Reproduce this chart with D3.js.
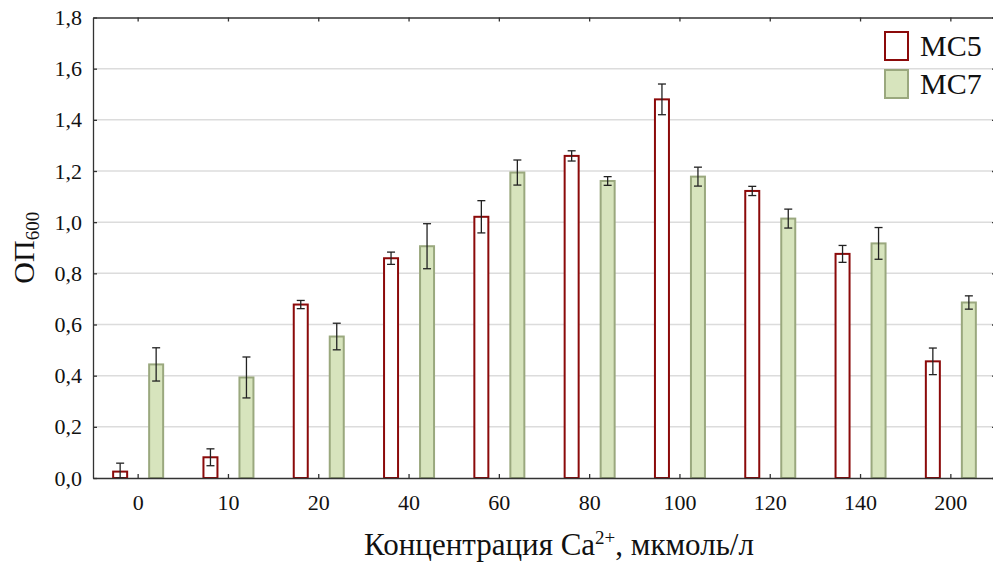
<!DOCTYPE html>
<html>
<head>
<meta charset="utf-8">
<script src="https://cdn.jsdelivr.net/npm/d3@7"></script>
</head>
<body style="margin:0">
<svg id="chart"></svg>
<script>
var categories = ["0", "10", "20", "40", "60", "80", "100", "120", "140", "200"];
var seriesNames = ["MC5", "MC7"];
var mc5 = [0.025, 0.081, 0.678, 0.859, 1.021, 1.259, 1.48, 1.122, 0.876, 0.456];
var mc5Err = [0.033, 0.033, 0.016, 0.024, 0.063, 0.02, 0.06, 0.018, 0.033, 0.052];
var mc7 = [0.444, 0.393, 0.553, 0.906, 1.194, 1.161, 1.178, 1.014, 0.917, 0.686];
var mc7Err = [0.065, 0.08, 0.052, 0.088, 0.049, 0.017, 0.037, 0.037, 0.062, 0.026];
var yTicks = [0, 0.2, 0.4, 0.6, 0.8, 1.0, 1.2, 1.4, 1.6, 1.8];

var FONT = "'Liberation Serif'";

var W = 993, H = 562;
var margin = {top: 17.5, right: -3, bottom: 84, left: 93},
    width  = W - margin.left - margin.right,
    height = H - margin.top - margin.bottom;

var svg = d3.select("#chart")
    .attr("width", W)
    .attr("height", H);

var g = svg.append("g")
    .attr("transform", "translate(" + margin.left + "," + margin.top + ")");

var x = d3.scaleBand().domain(categories).range([0, width]);
var y = d3.scaleLinear().domain([0, 1.8]).range([height, 0]);

var fmt = function(d) { return d3.format(".1f")(d).replace(".", ","); };

// grid lines
g.selectAll(".grid")
    .data(yTicks.filter(function(d) { return d > 0 && d < 1.8; }))
  .enter().append("line")
    .attr("x1", 0).attr("x2", width)
    .attr("y1", function(d) { return y(d); })
    .attr("y2", function(d) { return y(d); })
    .attr("stroke", "#dcdcdc")
    .attr("stroke-width", 1.5);

// bars, one group per series
var data = [
  {name: seriesNames[0], vals: mc5, errs: mc5Err, off: -18, fill: "#ffffff", stroke: "#8b0a0a"},
  {name: seriesNames[1], vals: mc7, errs: mc7Err, off: 18, fill: "#d7e4bd", stroke: "#9aa87e"}
];
var barW = 14;

data.forEach(function(s) {
  var cx = function(d, i) { return x(categories[i]) + x.bandwidth() / 2 + s.off; };
  g.selectAll(".bar-" + s.name)
      .data(s.vals)
    .enter().append("rect")
      .attr("x", function(d, i) { return cx(d, i) - barW / 2; })
      .attr("y", function(d) { return y(d); })
      .attr("width", barW)
      .attr("height", function(d) { return height - y(d); })
      .attr("fill", s.fill)
      .attr("stroke", s.stroke)
      .attr("stroke-width", 2);

  // error bars
  var eb = g.selectAll(".err-" + s.name)
      .data(s.vals)
    .enter().append("g")
      .attr("stroke", "#222")
      .attr("stroke-width", 1.3);
  eb.append("line")
      .attr("x1", cx).attr("x2", cx)
      .attr("y1", function(d, i) { return y(d + s.errs[i]); })
      .attr("y2", function(d, i) { return y(Math.max(0, d - s.errs[i])); });
  eb.append("line")
      .attr("x1", function(d, i) { return cx(d, i) - 4; })
      .attr("x2", function(d, i) { return cx(d, i) + 4; })
      .attr("y1", function(d, i) { return y(d + s.errs[i]); })
      .attr("y2", function(d, i) { return y(d + s.errs[i]); });
  eb.append("line")
      .attr("x1", function(d, i) { return cx(d, i) - 4; })
      .attr("x2", function(d, i) { return cx(d, i) + 4; })
      .attr("y1", function(d, i) { return y(Math.max(0, d - s.errs[i])); })
      .attr("y2", function(d, i) { return y(Math.max(0, d - s.errs[i])); });
});

// axes, ticks pointing inward on all four sides
var xAxisB = d3.axisBottom(x).tickSizeInner(-4).tickSizeOuter(0).tickPadding(16);
var xAxisT = d3.axisTop(x).tickSizeInner(-4).tickSizeOuter(0).tickFormat("");
var yAxisL = d3.axisLeft(y).tickValues(yTicks).tickSizeInner(-4).tickSizeOuter(0).tickPadding(11).tickFormat(fmt);
var yAxisR = d3.axisRight(y).tickValues(yTicks).tickSizeInner(-4).tickSizeOuter(0).tickFormat("");

var styleAxis = function(sel) {
  sel.attr("font-family", null).attr("font-size", null);
  sel.select(".domain").attr("stroke", "#333").attr("stroke-width", 1.3);
  sel.selectAll(".tick line").attr("stroke", "#333").attr("stroke-width", 1.3);
  sel.selectAll(".tick text")
      .attr("font-family", FONT)
      .attr("font-size", 22)
      .attr("fill", "#111");
};

g.append("g").attr("transform", "translate(0," + height + ")").call(xAxisB).call(styleAxis);
g.append("g").call(xAxisT).call(styleAxis);
g.append("g").call(yAxisL).call(styleAxis);
g.append("g").attr("transform", "translate(" + width + ",0)").call(yAxisR).call(styleAxis);

// axis titles
var xt = svg.append("text")
    .attr("x", margin.left + 466)
    .attr("y", 555)
    .attr("text-anchor", "middle")
    .attr("font-family", FONT)
    .attr("fill", "#111")
    .attr("font-size", 31);
xt.append("tspan").text("Концентрация Ca");
xt.append("tspan").attr("dy", -11).attr("font-size", 19).text("2+");
xt.append("tspan").attr("dy", 11).text(", мкмоль/л");

var yt = svg.append("text")
    .attr("transform", "translate(34," + (margin.top + height / 2) + ") rotate(-90)")
    .attr("text-anchor", "middle")
    .attr("font-family", FONT)
    .attr("fill", "#111")
    .attr("font-size", 30);
yt.append("tspan").text("ОП");
yt.append("tspan").attr("dy", 5).attr("font-size", 19).text("600");

// legend
var legend = svg.append("g").attr("transform", "translate(884,31)");
data.forEach(function(s, i) {
  var row = legend.append("g").attr("transform", "translate(0," + (i * 38) + ")");
  row.append("rect")
      .attr("x", 1).attr("y", 1)
      .attr("width", 23).attr("height", 28)
      .attr("fill", s.fill)
      .attr("stroke", s.stroke)
      .attr("stroke-width", 2);
  row.append("text")
      .attr("x", 36).attr("y", 25)
      .attr("font-family", FONT)
      .attr("fill", "#111")
      .attr("font-size", 30)
      .text(s.name);
});
</script>
</body>
</html>
